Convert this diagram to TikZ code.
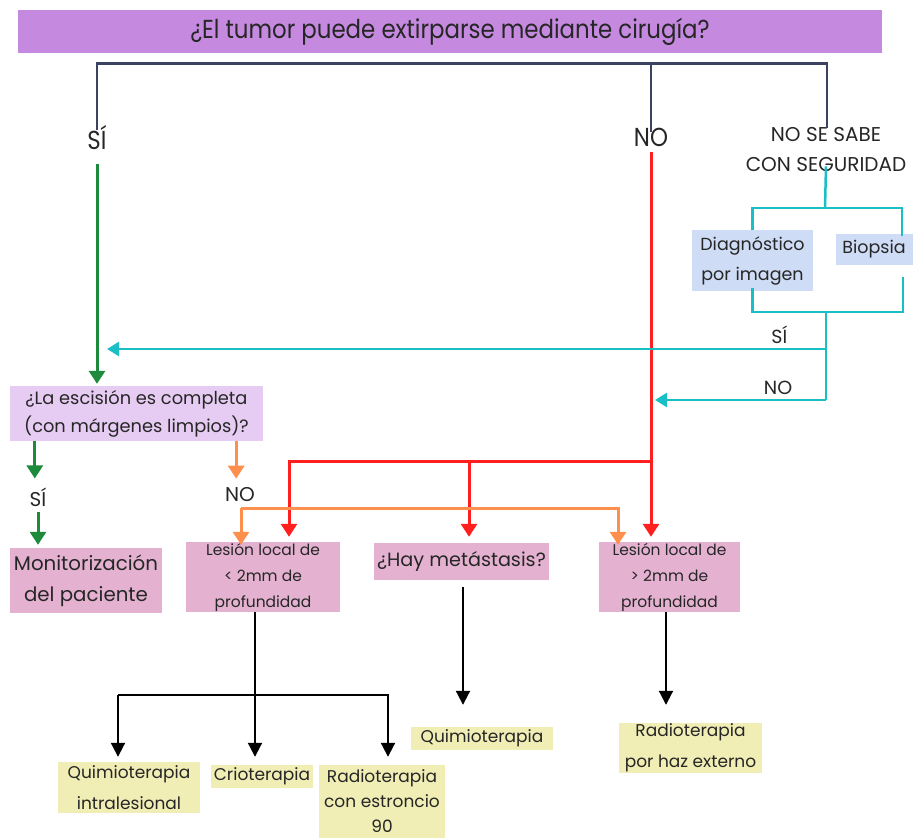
\documentclass[tikz,border=0pt]{standalone}
\usepackage{fontspec}
\setmainfont{Poppins}
\newfontfamily\condfont[FakeStretch=0.88]{Poppins}
\usepackage{tikz}
\usetikzlibrary{arrows.meta,positioning}

\definecolor{titlepurple}{HTML}{C58AE0}
\definecolor{lightpurple}{HTML}{E6CCF2}
\definecolor{boxpink}{HTML}{E4B2D0}
\definecolor{boxblue}{HTML}{CFDCF5}
\definecolor{boxyellow}{HTML}{F0EDB5}
\definecolor{navyline}{HTML}{3B4262}
\definecolor{greenline}{HTML}{1D8A3C}
\definecolor{redline}{HTML}{FF1F1F}
\definecolor{orangeline}{HTML}{FF8F4D}
\definecolor{tealline}{HTML}{1ABFC6}

\begin{document}
\begin{tikzpicture}[
    x=1pt, y=-1pt,
    box/.style={inner sep=0pt, align=center, text=black!85},
    lbl/.style={inner sep=2pt, align=center, text=black!85},
    tip/.style={-{Triangle[width=16pt,length=13pt]}},
    navy/.style={navyline, line width=2pt},
    grn/.style={greenline, line width=3pt},
    rd/.style={redline, line width=3pt},
    org/.style={orangeline, line width=3pt},
    tl/.style={tealline, line width=2.5pt},
    blk/.style={black, line width=2pt},
    btip/.style={-{Triangle[width=14pt,length=14pt]}}
]
\useasboundingbox (0,0) rectangle (913,838);

% pregunta principal
\node[box, fill=titlepurple, minimum width=864pt, minimum height=43pt,
      font=\condfont\fontsize{26}{28}\selectfont] (title) at (450,31.5)
      {¿El tumor puede extirparse mediante cirugía?};

% respuestas
\node[lbl, font=\condfont\fontsize{26}{28}\selectfont] (si) at (97,138) {SÍ};
\node[lbl, font=\condfont\fontsize{26}{28}\selectfont] (no) at (651,137) {NO};
\node[lbl, font=\fontsize{20}{30}\selectfont] (nose) at (826,150)
      {NO SE SABE\\CON SEGURIDAD};

% cajas azules
\node[box, fill=boxblue, minimum width=121pt, minimum height=61pt,
      font=\fontsize{17.5}{30}\selectfont] (diag) at (752.5,260.5)
      {Diagnóstico\\por imagen};
\node[box, fill=boxblue, minimum width=77pt, minimum height=31pt,
      font=\fontsize{17.5}{30}\selectfont] (biop) at (874,249.5) {Biopsia};

% cajas moradas y rosas
\node[box, fill=lightpurple, minimum width=253pt, minimum height=55pt,
      font=\fontsize{17.8}{28}\selectfont] (escision) at (136.5,413.5)
      {¿La escisión es completa\\(con márgenes limpios)?};
\node[lbl, font=\fontsize{20}{22}\selectfont] (sino) at (38,497) {SÍ};
\node[lbl, font=\fontsize{20}{22}\selectfont] (noesc) at (240,495) {NO};
\node[box, fill=boxpink, minimum width=152pt, minimum height=65pt,
      font=\fontsize{19.8}{31}\selectfont] (monit) at (86,580.5)
      {Monitorización\\del paciente};
\node[box, fill=boxpink, minimum width=154pt, minimum height=70pt,
      font=\fontsize{15.5}{26}\selectfont] (lesmenor) at (263,577)
      {Lesión local de\\< 2mm de\\profundidad};
\node[box, fill=boxpink, minimum width=175pt, minimum height=37pt,
      font=\fontsize{19.2}{22}\selectfont] (metast) at (461.5,561.5)
      {¿Hay metástasis?};
\node[box, fill=boxpink, minimum width=141pt, minimum height=70pt,
      font=\fontsize{15.5}{26}\selectfont] (lesmayor) at (669.5,577)
      {Lesión local de\\> 2mm de\\profundidad};

% tratamientos
\node[box, fill=boxyellow, minimum width=142pt, minimum height=51pt,
      font=\fontsize{17}{31}\selectfont] (quimint) at (129,787.5)
      {Quimioterapia\\intralesional};
\node[box, fill=boxyellow, minimum width=102pt, minimum height=23pt,
      font=\fontsize{17}{31}\selectfont] (crio) at (262,776.5) {Crioterapia};
\node[box, fill=boxyellow, minimum width=126pt, minimum height=73pt,
      font=\fontsize{17}{25}\selectfont] (radest) at (382,801.5)
      {Radioterapia\\con estroncio\\90};
\node[box, fill=boxyellow, minimum width=142pt, minimum height=23pt,
      font=\fontsize{17}{31}\selectfont] (quimio) at (482,738.5) {Quimioterapia};
\node[box, fill=boxyellow, minimum width=143pt, minimum height=50pt,
      font=\fontsize{17}{31}\selectfont] (radhaz) at (690.5,748)
      {Radioterapia\\por haz externo};

% corchete superior
\coordinate (bkl) at (97,63);
\coordinate (bkn) at (651,63);
\coordinate (bkr) at (827,63);
\draw[navyline, line width=3pt] ([xshift=-1pt]bkl) -- ([xshift=1pt]bkr);
\draw[navy] (bkl) -- ([yshift=-6pt]si.north);
\draw[navy] (bkn) -- ([yshift=-6pt]no.north);
\draw[navy] (bkr) -- ([yshift=-2pt]bkr |- nose.north);

% rama SI
\draw[grn, tip, shorten <=12pt] (si.south) -- ([yshift=2pt]si.south |- escision.north);

% rama NO
\draw[rd, tip, shorten <=4pt] (no.south) -- ([yshift=5pt]no.south |- lesmayor.north);
\coordinate (rj) at (651,461);
\draw[rd, tip] (rj) -| ([xshift=26pt,yshift=5pt]lesmenor.north);
\draw[rd, tip] ([xshift=7.5pt]rj -| metast.north) -- ([xshift=7.5pt,yshift=6pt]metast.north);

% rama no se sabe
\coordinate (tj) at (825,208);
\draw[tl] ([yshift=8pt]nose.south) -- (tj);
\draw[tl] (tj) -| (diag.north);
\draw[tl] (tj) -| ([xshift=28pt,yshift=-2pt]biop.north);
\coordinate (tb) at (826,312);
\draw[tl] ([yshift=3pt]diag.south) |- (tb);
\draw[tl] ([xshift=29pt,yshift=-12pt]biop.south) |- (tb);
\coordinate (tsi) at (826,349);
\coordinate (tno) at (826,400);
\draw[tl] (tb) -- (tno);
\draw[tl, -{Triangle[width=14pt,length=12pt]}] (tsi) -- ([xshift=10pt]tsi -| si)
      node[pos=0.065, above=2pt, lbl, font=\fontsize{19}{20}\selectfont] (tsilbl) {SÍ};
\draw[tl, -{Triangle[width=14pt,length=12pt]}] (tno) -- ([xshift=4pt]tno -| no)
      node[pos=0.28, above=2pt, lbl, font=\fontsize{19}{20}\selectfont] (tnolbl) {NO};

% escision completa
\draw[grn, tip] ([xshift=25pt]escision.south west) -- ([xshift=25pt,yshift=7pt]escision.south west |- sino.north);
\draw[grn, tip, shorten <=3pt] (sino.south) -- ([yshift=3pt]sino.south |- monit.north);
\draw[org, tip] ([xshift=-27pt]escision.south east) -- ([xshift=-27pt,yshift=7pt]escision.south east |- noesc.north);
\coordinate (oj) at (241,508);
\draw[org, tip] (oj) -- ([yshift=-3pt]oj |- lesmenor.north);
\draw[org, tip] (oj) -| ([xshift=-51.5pt,yshift=-3pt]lesmayor.north);

% tratamientos
\coordinate (bj) at (118,695);
\draw[blk, btip] ([xshift=-8pt]lesmenor.south) -- ([xshift=-7pt,yshift=8pt]crio.north);
\draw[blk, btip, shorten >=5pt] (bj) -- (bj |- quimint.north);
\draw[blk, btip] (bj) -| ([xshift=6pt,yshift=8pt]radest.north);
\draw[blk, btip, shorten <=7pt] ([xshift=1.5pt]metast.south) -- ([xshift=1.5pt,yshift=22pt]metast.south |- quimio.north);
\draw[blk, btip] ([xshift=-3.5pt]lesmayor.south) -- ([xshift=-3.5pt,yshift=18pt]lesmayor.south |- radhaz.north);

\end{tikzpicture}
\end{document}
